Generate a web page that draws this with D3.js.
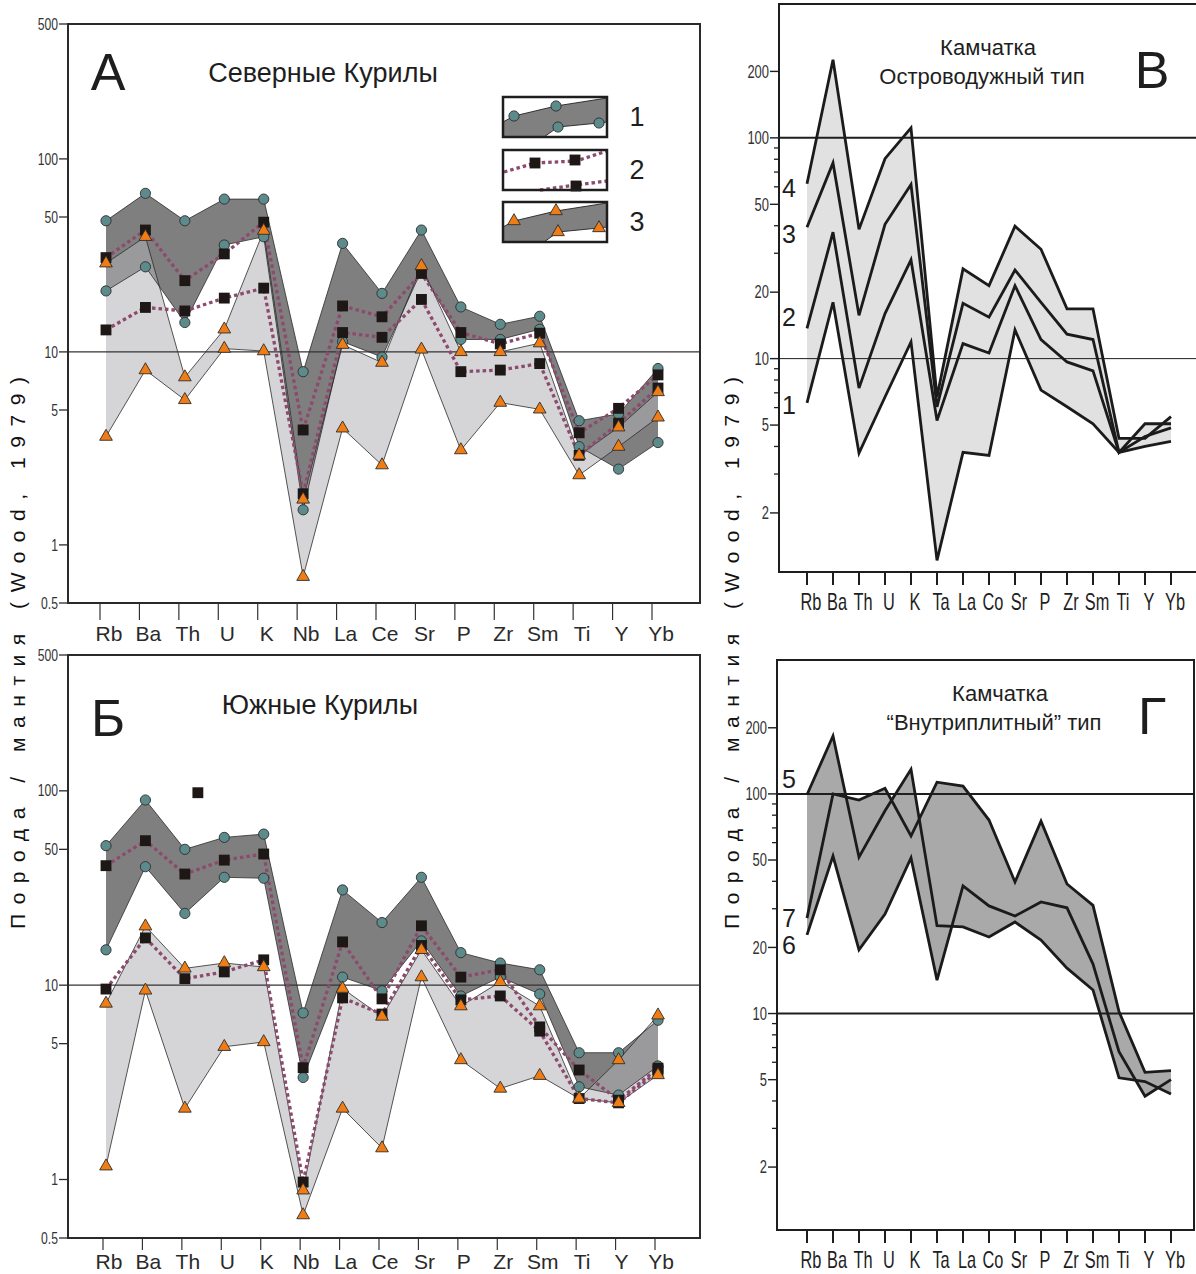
<!DOCTYPE html>
<html>
<head>
<meta charset="utf-8">
<script src="https://cdn.jsdelivr.net/npm/d3@7"></script>
<style>
body { margin: 0; background: #fff; }
text { font-family: Arial, "Liberation Sans", sans-serif; fill: #1e1e1e; }
</style>
</head>
<body>
<div id="chart"></div>
<script>
var width = 1196,
    height = 1274;

// element order on the x axis
var elementsLeft = ["Rb", "Ba", "Th", "U", "K", "Nb", "La", "Ce", "Sr", "P", "Zr", "Sm", "Ti", "Y", "Yb"];
var elementsRight = ["Rb", "Ba", "Th", "U", "K", "Ta", "La", "Co", "Sr", "P", "Zr", "Sm", "Ti", "Y", "Yb"];

var leftTicks = [500, 100, 50, 10, 5, 1, 0.5];
var rightTicks = [200, 100, 50, 20, 10, 5, 2];
var rightMinor = [3, 4, 6, 7, 8, 9, 30, 40, 60, 70, 80, 90];

// A - Северные Курилы
var aCirclesTop = [47.8, 66.3, 47.8, 61.9, 61.9, 7.9, 36.5, 20.1, 42.8, 17.1, 13.9, 15.3, 4.4, 4.77, 8.2];
var aCirclesBottom = [20.7, 27.6, 14.2, 35.8, 39.5, 1.52, 11.3, 9.4, 26.4, 11.6, 11.6, 13.1, 3.23, 2.47, 3.39];
var aSquaresTop = [30.8, 42.8, 23.4, 32.2, 47.0, 3.94, 17.3, 15.2, 25.5, 12.6, 11.0, 12.5, 3.81, 5.1, 7.6];
var aSquaresBottom = [13.0, 17.0, 16.3, 19.0, 21.4, 1.84, 12.6, 11.9, 18.7, 7.9, 8.05, 8.7, 2.91, 4.27, 6.5];
var aTrianglesTop = [28.8, 39.5, 7.4, 13.1, 42.5, 1.72, 10.9, 8.8, 27.9, 10.0, 10.0, 11.1, 2.91, 4.07, 6.2];
var aTrianglesBottom = [3.64, 8.05, 5.64, 10.4, 10.1, 0.684, 4.02, 2.59, 10.3, 3.1, 5.46, 5.04, 2.30, 3.23, 4.58];

// Б - Южные Курилы
var bCirclesTop = [52.2, 89.7, 50, 57.6, 59.9, 7.2, 30.9, 21.0, 35.9, 14.7, 13.0, 12.0, 4.49, 4.49, 6.6];
var bCirclesBottom = [15.2, 40.7, 23.4, 35.9, 35.5, 3.35, 11.0, 9.36, 16.9, 8.8, 11.0, 9.0, 3.0, 2.72, 3.84];
var bSquaresTop = [41.2, 55.4, 37.3, 44.0, 47.3, 3.76, 16.7, 8.5, 20.2, 11.0, 12.0, 6.1, 3.66, 2.56, 3.74];
var bSquaresBottom = [9.55, 17.5, 10.8, 11.7, 13.5, 0.97, 8.6, 7.1, 16.0, 8.4, 8.8, 5.8, 2.61, 2.48, 3.61];
var bTrianglesTop = [8.05, 20.1, 12.2, 13.0, 12.4, 0.88, 9.6, 6.9, 15.2, 7.8, 10.4, 7.8, 2.61, 4.12, 7.0];
var bTrianglesBottom = [1.17, 9.4, 2.32, 4.82, 5.1, 0.656, 2.32, 1.45, 11.0, 4.12, 2.94, 3.42, 2.61, 2.48, 3.45];
var bStraySquare = {pos: 2.33, value: 97.8};

// В - Камчатка, островодужный тип
var vLine1 = [6.3, 18.0, 3.73, 6.7, 11.9, 1.22, 3.76, 3.64, 13.5, 7.2, 6.05, 5.07, 3.76, 4.0, 4.22];
var vLine2 = [13.7, 37.4, 7.35, 16.0, 28.0, 5.24, 11.7, 10.6, 21.4, 12.2, 9.66, 8.8, 3.76, 4.44, 4.86];
var vLine3 = [39.4, 77, 15.7, 40.6, 61.5, 6.05, 17.8, 15.4, 25.2, 18.0, 12.9, 12.2, 3.76, 5.07, 5.07];
var vLine4 = [62, 226, 38.5, 80.5, 111, 6.7, 25.5, 21.4, 39.8, 31.3, 16.8, 16.8, 4.35, 4.35, 5.46];

// Г - Камчатка, внутриплитный тип
var gLine5 = [99.1, 183.5, 51.5, 83.8, 129.4, 25.1, 24.8, 22.3, 26.1, 21.6, 16.1, 12.8, 5.1, 4.9, 4.3];
var gLine6 = [22.8, 52.1, 19.5, 28.4, 51.1, 14.2, 38.1, 30.9, 27.8, 32.2, 30.3, 16.8, 6.7, 4.2, 5.0];
var gLine7 = [27.2, 100, 93.8, 106, 64.3, 113, 108.6, 76, 39.7, 75.1, 38.9, 31.1, 10.2, 5.4, 5.5];

var colCircle = "#5d8b8b",
    colTriangle = "#f07c14",
    colSquare = "#1d1716",
    colDots = "#8c4b6d";

var svg = d3.select("#chart").append("svg")
    .attr("width", width)
    .attr("height", height);

/** condensed text, drawn by squeezing it horizontally */
function narrowText(g, x, y, str, size, anchor, sx) {
    return g.append("text")
        .attr("transform", "translate(" + x + "," + y + ") scale(" + sx + ",1)")
        .attr("text-anchor", anchor)
        .attr("dy", "0.35em")
        .style("font-size", size + "px")
        .text(str);
}

function plainText(g, x, y, str, size, anchor) {
    return g.append("text")
        .attr("x", x)
        .attr("y", y)
        .attr("text-anchor", anchor || "middle")
        .attr("dy", "0.35em")
        .style("font-size", size + "px")
        .text(str);
}

function drawMarkers(g, x, y, values, type) {
    var sym = d3.symbol();
    if (type === "circle") sym.type(d3.symbolCircle).size(82);
    if (type === "square") sym.type(d3.symbolSquare).size(118);
    if (type === "triangle") sym.type(d3.symbolTriangle).size(70);
    g.selectAll(null)
        .data(values)
        .enter().append("path")
        .attr("transform", function(d, i) { return "translate(" + x(i) + "," + y(d) + ")"; })
        .attr("d", sym)
        .attr("fill", type === "circle" ? colCircle : (type === "square" ? colSquare : colTriangle))
        .attr("stroke", type === "square" ? "none" : "#2d2d2d")
        .attr("stroke-width", 0.9);
}

/** outer envelope of several polylines on a log scale, with crossings */
function envelope(lines) {
    var pts = [];
    var n = lines[0].length;
    for (var i = 0; i < n - 1; i++) {
        var a = lines.map(function(l) { return Math.log(l[i]); });
        var b = lines.map(function(l) { return Math.log(l[i + 1]); });
        var ts = [0, 1];
        for (var j = 0; j < lines.length; j++) {
            for (var k = j + 1; k < lines.length; k++) {
                var da = a[j] - a[k], db = b[j] - b[k];
                if (da * db < 0) ts.push(da / (da - db));
            }
        }
        ts.sort(function(p, q) { return p - q; });
        ts.forEach(function(t) {
            if (i > 0 && t === 0) return;
            var vals = a.map(function(v, j) { return v + (b[j] - v) * t; });
            pts.push({pos: i + t, hi: Math.exp(d3.max(vals)), lo: Math.exp(d3.min(vals))});
        });
    }
    return pts;
}

/** left panels (Курилы) */
function leftPanel(p) {
    var g = svg.append("g");
    var left = 68, right = 700;
    var x = d3.scaleLinear().domain([0, elementsLeft.length - 1]).range([106, 658]);
    var y = d3.scaleLog().domain([0.5, 500]).range([p.bottom, p.top]);
    var idx = d3.range(elementsLeft.length);

    function band(top, bot) {
        return d3.area()
            .x(function(i) { return x(i); })
            .y0(function(i) { return y(bot[i]); })
            .y1(function(i) { return y(top[i]); })(idx);
    }
    var line = d3.line()
        .x(function(d, i) { return x(i); })
        .y(function(d) { return y(d); });

    g.append("path").attr("d", band(p.circTop, p.circBot)).attr("fill", "#7f7f7f");
    g.append("path").attr("d", band(p.triTop, p.triBot))
        .attr("fill", "#b1b1b7")
        .attr("fill-opacity", 0.54);

    g.append("line")
        .attr("x1", left).attr("x2", right)
        .attr("y1", y(10)).attr("y2", y(10))
        .attr("stroke", "#333").attr("stroke-width", 1.3);

    [p.circTop, p.circBot, p.triTop, p.triBot].forEach(function(s) {
        g.append("path").attr("d", line(s))
            .attr("fill", "none")
            .attr("stroke", "#2b2b2b")
            .attr("stroke-width", 0.8);
    });
    [p.sqTop, p.sqBot].forEach(function(s) {
        g.append("path").attr("d", line(s))
            .attr("fill", "none")
            .attr("stroke", colDots)
            .attr("stroke-width", 3.3)
            .attr("stroke-dasharray", "3.5,3");
    });

    drawMarkers(g, x, y, p.circTop, "circle");
    drawMarkers(g, x, y, p.circBot, "circle");
    drawMarkers(g, x, y, p.sqTop, "square");
    drawMarkers(g, x, y, p.sqBot, "square");
    drawMarkers(g, x, y, p.triTop, "triangle");
    drawMarkers(g, x, y, p.triBot, "triangle");

    if (p.stray) {
        g.append("path")
            .attr("transform", "translate(" + x(p.stray.pos) + "," + y(p.stray.value) + ")")
            .attr("d", d3.symbol().type(d3.symbolSquare).size(118))
            .attr("fill", colSquare);
    }

    // frame
    g.append("rect")
        .attr("x", left).attr("y", p.top)
        .attr("width", right - left).attr("height", p.bottom - p.top)
        .attr("fill", "none")
        .attr("stroke", "#2a2a2a")
        .attr("stroke-width", 2);

    // y ticks
    leftTicks.forEach(function(t) {
        g.append("line")
            .attr("x1", left - 9).attr("x2", left)
            .attr("y1", y(t)).attr("y2", y(t))
            .attr("stroke", "#2a2a2a").attr("stroke-width", 1.3);
        narrowText(g, left - 10, y(t), t, 16, "end", 0.76).style("fill", "#333");
    });

    // x ticks and labels
    elementsLeft.forEach(function(e, i) {
        g.append("line")
            .attr("x1", x(i) - p.tickShift).attr("x2", x(i) - p.tickShift)
            .attr("y1", p.bottom + 1).attr("y2", p.bottom + p.tickLen)
            .attr("stroke", "#333").attr("stroke-width", 1.2);
        plainText(g, x(i) + 3, p.bottom + p.labelGap, e, 21).style("fill", "#2a2a2a");
    });

    plainText(g, 108, p.letterY, p.letter, 52);
    plainText(g, p.titleX, p.titleY, p.title, 27);
}

/** right panels (Камчатка) */
function rightPanel(p) {
    var g = svg.append("g");
    var left = p.left, right = p.right;
    var x = d3.scaleLinear().domain([0, elementsRight.length - 1]).range([807, 1171]);
    var y = d3.scaleLog().domain(p.domain).range([p.bottom, p.top]);

    g.append("path")
        .attr("d", d3.area()
            .x(function(d) { return x(d.pos); })
            .y0(function(d) { return y(d.lo); })
            .y1(function(d) { return y(d.hi); })(envelope(p.lines)))
        .attr("fill", p.fill);

    p.refLines.forEach(function(r) {
        g.append("line")
            .attr("x1", left).attr("x2", right)
            .attr("y1", y(r.value)).attr("y2", y(r.value))
            .attr("stroke", "#1e1e1e").attr("stroke-width", r.w);
    });

    var line = d3.line()
        .x(function(d, i) { return x(i); })
        .y(function(d) { return y(d); });
    p.lines.forEach(function(l) {
        g.append("path").attr("d", line(l))
            .attr("fill", "none")
            .attr("stroke", "#1b1b1b")
            .attr("stroke-width", 2.8)
            .attr("stroke-linejoin", "miter");
    });

    g.append("rect")
        .attr("x", left).attr("y", p.top)
        .attr("width", right - left).attr("height", p.bottom - p.top)
        .attr("fill", "none")
        .attr("stroke", "#1e1e1e")
        .attr("stroke-width", 2);

    rightTicks.forEach(function(t) {
        g.append("line")
            .attr("x1", left - 9).attr("x2", left)
            .attr("y1", y(t)).attr("y2", y(t))
            .attr("stroke", "#1e1e1e").attr("stroke-width", 1.4);
        narrowText(g, left - 10, y(t), t, 18, "end", 0.72).style("fill", "#333");
    });
    rightMinor.forEach(function(t) {
        g.append("line")
            .attr("x1", left - 5).attr("x2", left)
            .attr("y1", y(t)).attr("y2", y(t))
            .attr("stroke", "#1e1e1e").attr("stroke-width", 1.3);
    });

    elementsRight.forEach(function(e, i) {
        g.append("line")
            .attr("x1", x(i)).attr("x2", x(i))
            .attr("y1", p.bottom).attr("y2", p.bottom + 13)
            .attr("stroke", "#1e1e1e").attr("stroke-width", 2);
        narrowText(g, x(i) + 4, p.bottom + 30, e, 24, "middle", 0.68);
    });

    p.lineLabels.forEach(function(l) {
        plainText(g, 789, y(l.at), l.text, 25);
    });

    plainText(g, p.titleX, p.top + p.titleGap, p.title1, 22);
    plainText(g, p.titleX - 6, p.top + p.titleGap + 29, p.title2, 22);
    plainText(g, 1152, p.letterY, p.letter, 52);
}

leftPanel({
    top: 24, bottom: 603,
    circTop: aCirclesTop, circBot: aCirclesBottom,
    sqTop: aSquaresTop, sqBot: aSquaresBottom,
    triTop: aTrianglesTop, triBot: aTrianglesBottom,
    tickShift: 6, tickLen: 17, labelGap: 31,
    letter: "А", letterY: 72,
    title: "Северные Курилы", titleX: 323, titleY: 73
});

leftPanel({
    top: 655, bottom: 1238,
    circTop: bCirclesTop, circBot: bCirclesBottom,
    sqTop: bSquaresTop, sqBot: bSquaresBottom,
    triTop: bTrianglesTop, triBot: bTrianglesBottom,
    stray: bStraySquare,
    tickShift: 3, tickLen: 12, labelGap: 24,
    letter: "Б", letterY: 718,
    title: "Южные Курилы", titleX: 320, titleY: 705
});

rightPanel({
    left: 779, right: 1199, top: 4, bottom: 572, domain: [1.08, 404],
    lines: [vLine1, vLine2, vLine3, vLine4],
    fill: "#e1e1e1",
    refLines: [{value: 100, w: 2}, {value: 10, w: 1}],
    lineLabels: [{text: "4", at: vLine4[0] * 0.95}, {text: "3", at: vLine3[0] * 0.93},
                 {text: "2", at: vLine2[0] * 1.12}, {text: "1", at: vLine1[0] * 0.98}],
    title1: "Камчатка", title2: "Островодужный тип", titleX: 988, titleGap: 43,
    letter: "В", letterY: 70
});

rightPanel({
    left: 777, right: 1194, top: 660, bottom: 1230, domain: [1.034, 407],
    lines: [gLine5, gLine6, gLine7],
    fill: "#a9a9a9",
    refLines: [{value: 100, w: 2}, {value: 10, w: 2}],
    lineLabels: [{text: "5", at: gLine5[0] * 1.18}, {text: "7", at: gLine7[0] * 1.0},
                 {text: "6", at: gLine6[0] * 0.9}],
    title1: "Камчатка", title2: "“Внутриплитный” тип", titleX: 1000, titleGap: 33,
    letter: "Г", letterY: 716
});

// legend in panel А
var legend = svg.append("g").attr("transform", "translate(503,97)");
var legendBoxes = [0, 53, 105];

function legendBox(dy, kind) {
    var b = legend.append("g").attr("transform", "translate(0," + dy + ")");
    b.append("rect").attr("width", 104).attr("height", 40).attr("fill", "#fff");
    var lineGen = d3.line();
    if (kind !== "square") {
        b.append("path")
            .attr("d", lineGen([[0, 25], [11, 19], [53, 9], [104, 1], [104, 25], [96, 26], [55, 30], [41, 40], [0, 40]]) + "Z")
            .attr("fill", "#808080");
        b.append("path").attr("d", lineGen([[0, 25], [11, 19], [53, 9], [104, 1]]))
            .attr("fill", "none").attr("stroke", "#222").attr("stroke-width", 0.9);
        b.append("path").attr("d", lineGen([[41, 40], [55, 30], [96, 26], [104, 25]]))
            .attr("fill", "none").attr("stroke", "#222").attr("stroke-width", 0.9);
        var pts = [[11, 19], [53, 9], [55, 30], [96, 26]];
        var sym = kind === "circle" ? d3.symbol().type(d3.symbolCircle).size(82)
                                    : d3.symbol().type(d3.symbolTriangle).size(70);
        pts.forEach(function(pt) {
            b.append("path")
                .attr("transform", "translate(" + pt[0] + "," + pt[1] + ")")
                .attr("d", sym)
                .attr("fill", kind === "circle" ? colCircle : colTriangle)
                .attr("stroke", "#2d2d2d").attr("stroke-width", 0.9);
        });
    } else {
        [[[1, 22], [32, 13], [73, 11], [104, 1]], [[37, 40], [73, 35], [104, 31]]].forEach(function(l) {
            b.append("path").attr("d", lineGen(l))
                .attr("fill", "none").attr("stroke", colDots)
                .attr("stroke-width", 3.3).attr("stroke-dasharray", "3.5,3");
        });
        [[32, 13], [72, 10], [73, 36]].forEach(function(pt) {
            b.append("path")
                .attr("transform", "translate(" + pt[0] + "," + pt[1] + ")")
                .attr("d", d3.symbol().type(d3.symbolSquare).size(118))
                .attr("fill", colSquare);
        });
    }
    b.append("rect").attr("width", 104).attr("height", 40)
        .attr("fill", "none").attr("stroke", "#1e1e1e").attr("stroke-width", 2.5);
}
legendBox(legendBoxes[0], "circle");
legendBox(legendBoxes[1], "square");
legendBox(legendBoxes[2], "triangle");
["1", "2", "3"].forEach(function(t, i) {
    plainText(legend, 134, legendBoxes[i] + 20, t, 27);
});

// vertical axis titles
[18, 732].forEach(function(xp) {
    svg.append("text")
        .attr("transform", "translate(" + xp + ",653) rotate(-90)")
        .attr("text-anchor", "middle")
        .attr("dy", "0.35em")
        .attr("textLength", 552)
        .attr("lengthAdjust", "spacing")
        .style("font-size", "21px")
        .style("fill", "#111")
        .text("Порода / мантия (Wood, 1979)");
});
</script>
</body>
</html>
